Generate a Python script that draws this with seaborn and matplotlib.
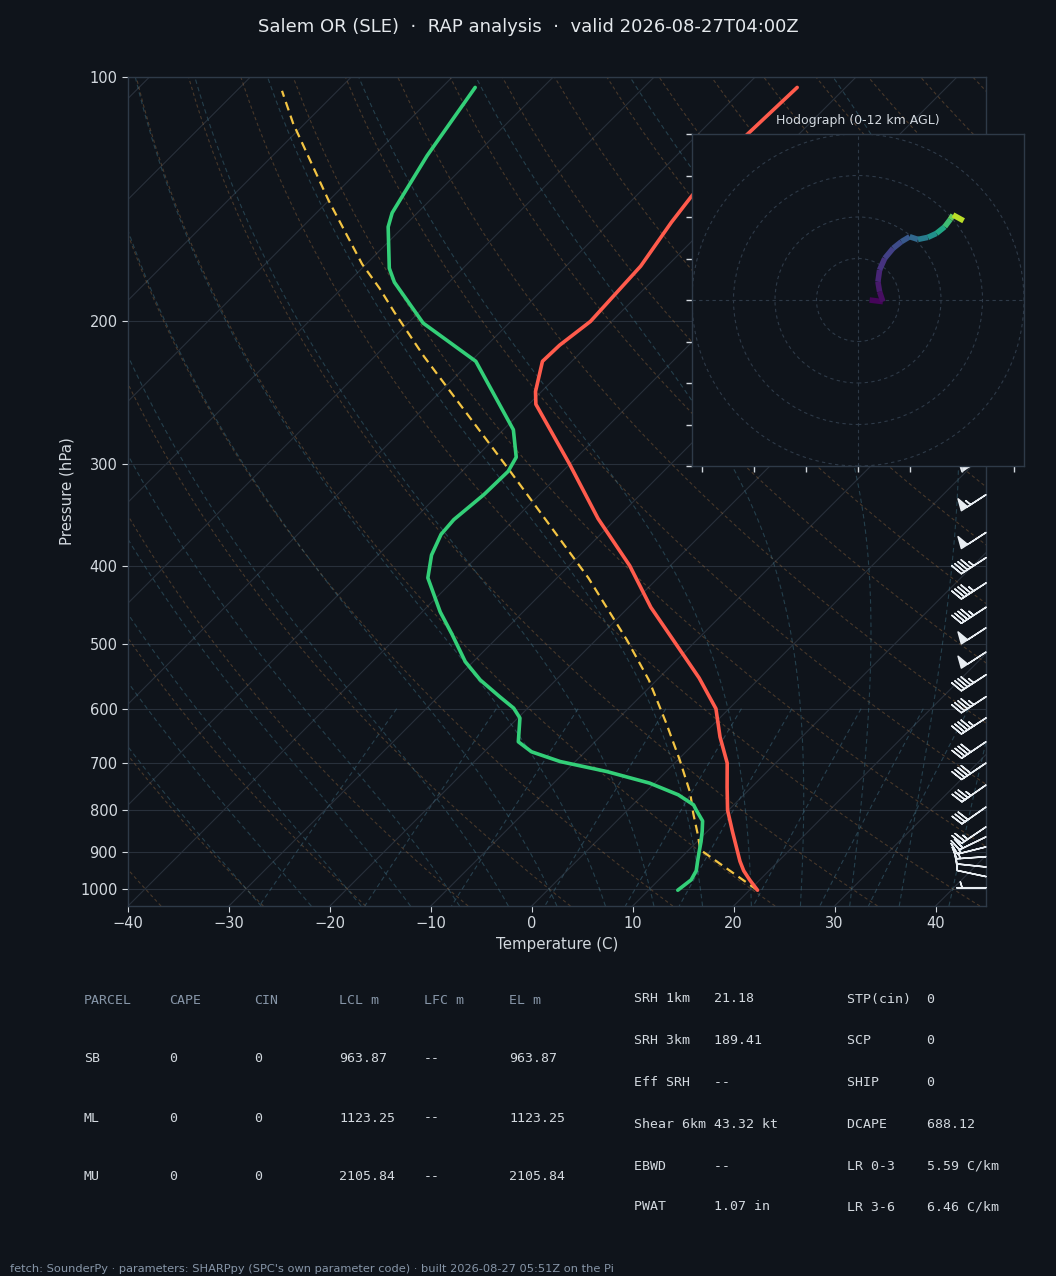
import numpy as np
import matplotlib
matplotlib.use("Agg")
import matplotlib.pyplot as plt
import matplotlib.transforms as mtransforms
from matplotlib.collections import LineCollection
from matplotlib.patches import Circle
from matplotlib.ticker import FixedLocator, NullLocator, FuncFormatter
import seaborn as sns

temp_p = [1004, 975, 950, 925, 900, 850, 800, 750, 700, 650, 600, 550, 500, 450, 400,
          350, 300, 253, 244, 224, 214, 200, 171, 151, 140, 118, 103]
temp_c = [20.8, 19.0, 17.5, 16.2, 15.0, 12.5, 9.9, 7.6, 5.2, 1.9, -1.3, -6.0, -11.6, -17.8, -24.0,
          -31.8, -40.0, -49.3, -50.6, -52.9, -52.8, -52.1, -52.6, -53.9, -54.5, -55.1, -54.8]

dewp_p = [1004, 975, 950, 925, 900, 875, 850, 825, 800, 788, 766, 741, 717, 697, 678, 659, 616, 599, 580,
          553, 525, 486, 456, 414, 388, 366, 351, 327, 306, 294, 272, 224, 201, 179, 172, 153, 147, 125, 103]
dewp_c = [12.9, 13.2, 12.8, 12.0, 11.2, 10.4, 9.5, 8.5, 6.8, 6.0, 3.5, -0.5, -5.9, -11.5, -15.3, -17.6, -19.8, -21.4, -23.9,
          -27.5, -30.8, -34.8, -38.2, -42.8, -44.7, -45.8, -46.0, -45.5, -45.4, -46.0, -49.0, -59.5, -68.5, -75.4, -77.3, -81.5, -82.5, -84.7, -86.7]

parcel_p = [1004, 895, 862, 807, 762, 694, 625, 553, 494, 414, 306, 221, 195, 182, 170, 142, 114, 104]
parcel_c = [20.8, 11.1, 9.6, 6.8, 4.5, 0.2, -4.8, -10.8, -16.9, -26.9, -45.2, -65.1, -72.4, -76.3, -80.4, -90.0, -101.2, -105.5]

barb_p = [997, 966, 940, 913, 888, 863, 839, 793, 745, 700, 659, 616, 580, 545, 511, 477, 450, 420, 391, 364, 327, 292]
barb_kt = [5, 10, 10, 15, 15, 20, 25, 30, 35, 40, 40, 45, 45, 45, 50, 50, 45, 45, 45, 50, 55, 55]
barb_ang = [0, -12, -6, 4, 14, 26, 34, 35, 35, 34, 34, 33, 33, 33, 33, 33, 33, 33, 33, 33, 33, 35]

hodo_u = [5.6, 12.0, 10.4, 9.6, 10.4, 12.9, 16.9, 20.9, 24.9, 28.9, 33.7, 37.8, 41.8, 44.5, 45.8, 50.9]
hodo_v = [0.0, -0.8, 4.0, 8.8, 14.5, 20.1, 24.9, 28.1, 30.5, 29.2, 30.2, 32.1, 35.3, 38.9, 41.0, 38.2]
hodo_z = [0.0, 0.3, 0.6, 1.0, 1.5, 2.0, 2.5, 3.0, 3.5, 4.5, 5.5, 6.5, 7.7, 8.8, 9.5, 12.0]

parcel_rows = [
    ["PARCEL", "CAPE", "CIN", "LCL m", "LFC m", "EL m"],
    ["SB", "0", "0", "963.87", "--", "963.87"],
    ["ML", "0", "0", "1123.25", "--", "1123.25"],
    ["MU", "0", "0", "2105.84", "--", "2105.84"],
]
params_left = [("SRH 1km", "21.18"), ("SRH 3km", "189.41"), ("Eff SRH", "--"),
               ("Shear 6km", "43.32 kt"), ("EBWD", "--"), ("PWAT", "1.07 in")]
params_right = [("STP(cin)", "0"), ("SCP", "0"), ("SHIP", "0"),
                ("DCAPE", "688.12"), ("LR 0-3", "5.59 C/km"), ("LR 3-6", "6.46 C/km")]

# ---------------- style ----------------
BG = "#0f141b"
GRID = "#28303b"
SPINE = "#2e3a48"
TXT = "#d3d9df"
MUTED = "#8796a8"

sns.set_theme(style="dark", rc={
    "figure.facecolor": BG, "axes.facecolor": BG, "axes.edgecolor": SPINE,
    "axes.labelcolor": TXT, "xtick.color": TXT, "ytick.color": TXT,
    "xtick.bottom": True, "ytick.left": True, "text.color": TXT,
})
plt.rcParams["font.family"] = ["DejaVu Sans"]

W, H = 1056, 1276
fig = plt.figure(figsize=(W / 100, H / 100), dpi=100)
fig.patch.set_facecolor(BG)

ax = fig.add_axes([128 / W, 370 / H, 858 / W, 829 / H])
ax.set_facecolor(BG)
ax.set_yscale("log")
ax.set_ylim(1050, 100)
ax.set_xlim(-40, 45)
ax.autoscale(False)

# skew so that isotherms sit at 45 degrees on screen
k = 829 / 858
skew = ax.transScale + ax.transLimits + mtransforms.Affine2D().skew(np.arctan(k), 0) + ax.transAxes

# isotherms
for t in range(-130, 50, 10):
    ax.plot([t, t], [1050, 100], color=GRID, lw=0.8, transform=skew, zorder=1)

# dry adiabats
p_all = np.linspace(1050, 100, 120)
for t0 in range(-40, 210, 10):
    td = (t0 + 273.15) * (p_all / 1000.0) ** 0.2857 - 273.15
    ax.plot(td, p_all, color="#b07a45", alpha=0.35, lw=0.8, ls=(0, (3, 2.5)),
            transform=skew, zorder=1)

# moist adiabats
def sat_mr(t, p):
    es = 6.112 * np.exp(17.67 * (t - 273.15) / (t - 29.65))
    return 0.622 * es / (p - es)

def moist_rate(t, p):
    rs = sat_mr(t, p)
    return (287.04 * t + 2.501e6 * rs) / (p * (1005.7 + 2.501e6 ** 2 * rs * 0.622 / (287.04 * t ** 2)))

def moist_profile(t0, pres):
    out = [t0]
    t = t0.copy()
    for p1, p2 in zip(pres[:-1], pres[1:]):
        dp = p2 - p1
        k1 = moist_rate(t, p1)
        k2 = moist_rate(t + k1 * dp, p2)
        t = t + 0.5 * (k1 + k2) * dp
        out.append(t)
    return np.array(out)

t0_m = np.arange(-30, 46, 5) + 273.15
p_up = np.linspace(1000, 100, 400)
p_dn = np.linspace(1000, 1050, 20)
t_up = moist_profile(t0_m, p_up)
t_dn = moist_profile(t0_m, p_dn)
for i in range(len(t0_m)):
    pp = np.concatenate([p_dn[::-1], p_up[1:]])
    tt = np.concatenate([t_dn[::-1, i], t_up[1:, i]]) - 273.15
    ax.plot(tt, pp, color="#3f7488", alpha=0.45, lw=0.8, ls=(0, (4, 3)),
            transform=skew, zorder=1)

# mixing ratio lines
p_mix = np.linspace(600, 1050, 40)
for w in [0.0004, 0.001, 0.002, 0.004, 0.007, 0.01, 0.016, 0.024, 0.032]:
    e = p_mix * w / (0.622 + w)
    lne = np.log(e / 6.112)
    td = 243.5 * lne / (17.67 - lne)
    ax.plot(td, p_mix, color="#3b6478", alpha=0.55, lw=0.8, ls=(0, (4, 3)),
            transform=skew, zorder=1)

# profiles
sns.lineplot(x=parcel_c, y=parcel_p, ax=ax, sort=False, estimator=None, color="#f3c443",
             lw=1.6, linestyle=(0, (4, 2.5)), transform=skew, zorder=3)
sns.lineplot(x=dewp_c, y=dewp_p, ax=ax, sort=False, estimator=None, color="#33cf78",
             lw=2.6, transform=skew, zorder=4)
sns.lineplot(x=temp_c, y=temp_p, ax=ax, sort=False, estimator=None, color="#ff5b4c",
             lw=2.6, transform=skew, zorder=4)

# wind barbs on the right edge
ang = np.deg2rad(barb_ang)
bu = np.array(barb_kt) * np.cos(ang)
bv = np.array(barb_kt) * np.sin(ang)
barb_trans = mtransforms.blended_transform_factory(ax.transAxes, ax.transData)
ax.barbs(np.ones(len(barb_p)), barb_p, bu, bv, transform=barb_trans, length=6.5,
         color="#e8edf2", linewidth=1.1, clip_on=False, zorder=5)

ax.set_xlim(-40, 45)
ax.set_ylim(1050, 100)
ax.yaxis.set_major_locator(FixedLocator([100, 200, 300, 400, 500, 600, 700, 800, 900, 1000]))
ax.yaxis.set_minor_locator(NullLocator())
ax.yaxis.set_major_formatter(FuncFormatter(lambda v, pos: f"{int(v)}"))
ax.set_xticks(range(-40, 41, 10))
ax.grid(axis="y", color=GRID, lw=0.8)
ax.grid(axis="x", visible=False)
ax.tick_params(labelsize=10.5, length=4, width=0.8, color=TXT)
ax.set_xlabel("Temperature (C)", fontsize=10.8, color=TXT)
ax.set_ylabel("Pressure (hPa)", fontsize=10.8, color=TXT)
for s in ax.spines.values():
    s.set_color(SPINE)
    s.set_linewidth(1.0)

# ---------------- hodograph inset ----------------
axh = fig.add_axes([692 / W, (H - 466) / H, 332 / W, 332 / H])
axh.set_facecolor(BG)
axh.set_xlim(-80, 80)
axh.set_ylim(-80, 80)
for r in (20, 40, 60, 80):
    axh.add_patch(Circle((0, 0), r, fill=False, ec=SPINE, lw=0.8, ls=(0, (3, 3))))
axh.axhline(0, color=SPINE, lw=0.8, ls=(0, (3, 3)))
axh.axvline(0, color=SPINE, lw=0.8, ls=(0, (3, 3)))
pts = np.column_stack([hodo_u, hodo_v])
segs = np.stack([pts[:-1], pts[1:]], axis=1)
zmid = 0.5 * (np.array(hodo_z[:-1]) + np.array(hodo_z[1:]))
lc = LineCollection(segs, cmap="viridis", norm=plt.Normalize(0, 12), linewidths=4,
                    capstyle="butt", joinstyle="round")
lc.set_array(zmid)
axh.add_collection(lc)
axh.set_xticks(np.arange(-75, 76, 25))
axh.set_yticks(np.arange(-80, 81, 20))
axh.tick_params(labelbottom=False, labelleft=False, length=4, width=1, color=TXT)
axh.grid(False)
for s in axh.spines.values():
    s.set_color(SPINE)
    s.set_linewidth(1.0)
axh.set_title("Hodograph (0-12 km AGL)", fontsize=9, color=TXT, pad=7)

# ---------------- title, tables, footer ----------------
fig.text(0.5, 1 - 27 / H, "Salem OR (SLE)  ·  RAP analysis  ·  valid 2026-08-27T04:00Z",
         ha="center", va="center", fontsize=13, color="#e4e8ec")

col_x = [84, 169, 254, 339, 424, 509]
row_y = [1000, 1059, 1118, 1177]
for ri, row in enumerate(parcel_rows):
    for ci, cell in enumerate(row):
        fig.text(col_x[ci] / W, 1 - row_y[ri] / H, cell, ha="left", va="center",
                 fontsize=9.5, family="DejaVu Sans Mono",
                 color=MUTED if ri == 0 else TXT)

prow_y = [999, 1041, 1083, 1124, 1166, 1207]
for i, (lab, val) in enumerate(params_left):
    fig.text(634 / W, 1 - prow_y[i] / H, f"{lab:<10}{val}", ha="left", va="center",
             fontsize=9.5, family="DejaVu Sans Mono", color=TXT)
for i, (lab, val) in enumerate(params_right):
    fig.text(847 / W, 1 - prow_y[i] / H, f"{lab:<10}{val}", ha="left", va="center",
             fontsize=9.5, family="DejaVu Sans Mono", color=TXT)

fig.text(10 / W, 1 - 1269 / H,
         "fetch: SounderPy · parameters: SHARPpy (SPC's own parameter code) · built 2026-08-27 05:51Z on the Pi",
         ha="left", va="center", fontsize=8.2, color=MUTED)

fig.savefig("out.png", dpi=100, facecolor=BG)
